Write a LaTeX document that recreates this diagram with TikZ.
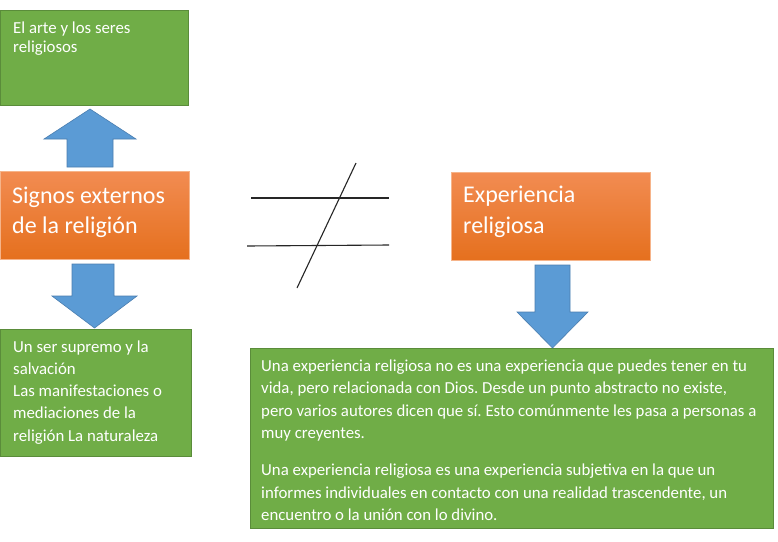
\documentclass[tikz,border=0pt]{standalone}
\usepackage{fontspec}
\setmainfont{Carlito}
\frenchspacing
\definecolor{gfill}{HTML}{70AD47}
\definecolor{gline}{HTML}{5A8C3A}
\definecolor{bfill}{HTML}{5B9BD5}
\definecolor{bline}{HTML}{4A7EB0}
\definecolor{otop}{HTML}{F28C52}
\definecolor{obot}{HTML}{E5701E}
\definecolor{oline}{HTML}{F6B48A}
\tikzset{
  gbox/.style={fill=gfill, draw=gline, line width=1pt},
  obox/.style={top color=otop, bottom color=obot, draw=oline, line width=1pt},
  barrow/.style={fill=bfill, draw=bline, line width=0.6pt, line join=miter},
  txt/.style={text=white, inner sep=0pt, anchor=base west, font=\frenchspacing\fontsize{16.8}{20}\selectfont},
  btxt/.style={text=white, inner sep=0pt, anchor=base west, font=\fontsize{24}{30}\selectfont},
  neq/.style={draw=black!85, line width=1.1pt}
}
\begin{document}
\begin{tikzpicture}[x=1pt,y=-1pt]
\useasboundingbox (0,0) rectangle (778,541);
\fill[white] (0,0) rectangle (778,541);

% boxes
\path[gbox] (0.5,10) rectangle (188,105);
\path[obox] (0.5,171) rectangle (189,259);
\path[gbox] (0.5,329) rectangle (191,456);
\path[obox] (451,172) rectangle (650,260);
\path[gbox] (250,348) rectangle (773,528);

% block arrows
\path[barrow] (90,109) -- (136,139) -- (113,139) -- (113,167) -- (67,167) -- (67,139) -- (44,139) -- cycle;
\path[barrow] (72,264) -- (114,264) -- (114,296) -- (137,296) -- (94.5,328) -- (52,296) -- (72,296) -- cycle;
\path[barrow] (535,265) -- (570,265) -- (570,312) -- (588,312) -- (552.5,348) -- (517,312) -- (535,312) -- cycle;

% not-equal sign
\coordinate (h1a) at (251,198); \coordinate (h1b) at (389,198);
\coordinate (h2a) at (247,246); \coordinate (h2b) at (389,245);
\coordinate (sa) at (356,163);  \coordinate (sb) at (297,288);
\draw[neq] (h1a) -- (h1b);
\draw[neq] (h2a) -- (h2b);
\draw[neq] (sa) -- (sb);

% texts
\node[txt] (t1a) at (13,33) {El arte y los seres};
\node[txt] (t1b) at (13,52.5) {religiosos};

\node[btxt] (t2a) at (12,203) {Signos externos};
\node[btxt] (t2b) at (12,233) {de la religión};

\node[btxt] (t3a) at (463,202) {Experiencia};
\node[btxt] (t3b) at (463,233) {religiosa};

\node[txt] (t4a) at (13,352) {Un ser supremo y la};
\node[txt] (t4b) at (13,374.3) {salvación};
\node[txt] (t4c) at (13,396.6) {Las manifestaciones o};
\node[txt] (t4d) at (13,418.9) {mediaciones de la};
\node[txt] (t4e) at (13,441.2) {religión La naturaleza};

\node[txt] (t5a) at (261,371) {Una experiencia religiosa no es una experiencia que puedes tener en tu};
\node[txt] (t5b) at (261,393.5) {vida, pero relacionada con Dios. Desde un punto abstracto no existe,};
\node[txt] (t5c) at (261,416) {pero varios autores dicen que sí. Esto comúnmente les pasa a personas a};
\node[txt] (t5d) at (261,438.5) {muy creyentes.};
\node[txt] (t5e) at (261,475.5) {Una experiencia religiosa es una experiencia subjetiva en la que un};
\node[txt] (t5f) at (261,498) {informes individuales en contacto con una realidad trascendente, un};
\node[txt] (t5g) at (261,520.5) {encuentro o la unión con lo divino.};
\end{tikzpicture}
\end{document}
